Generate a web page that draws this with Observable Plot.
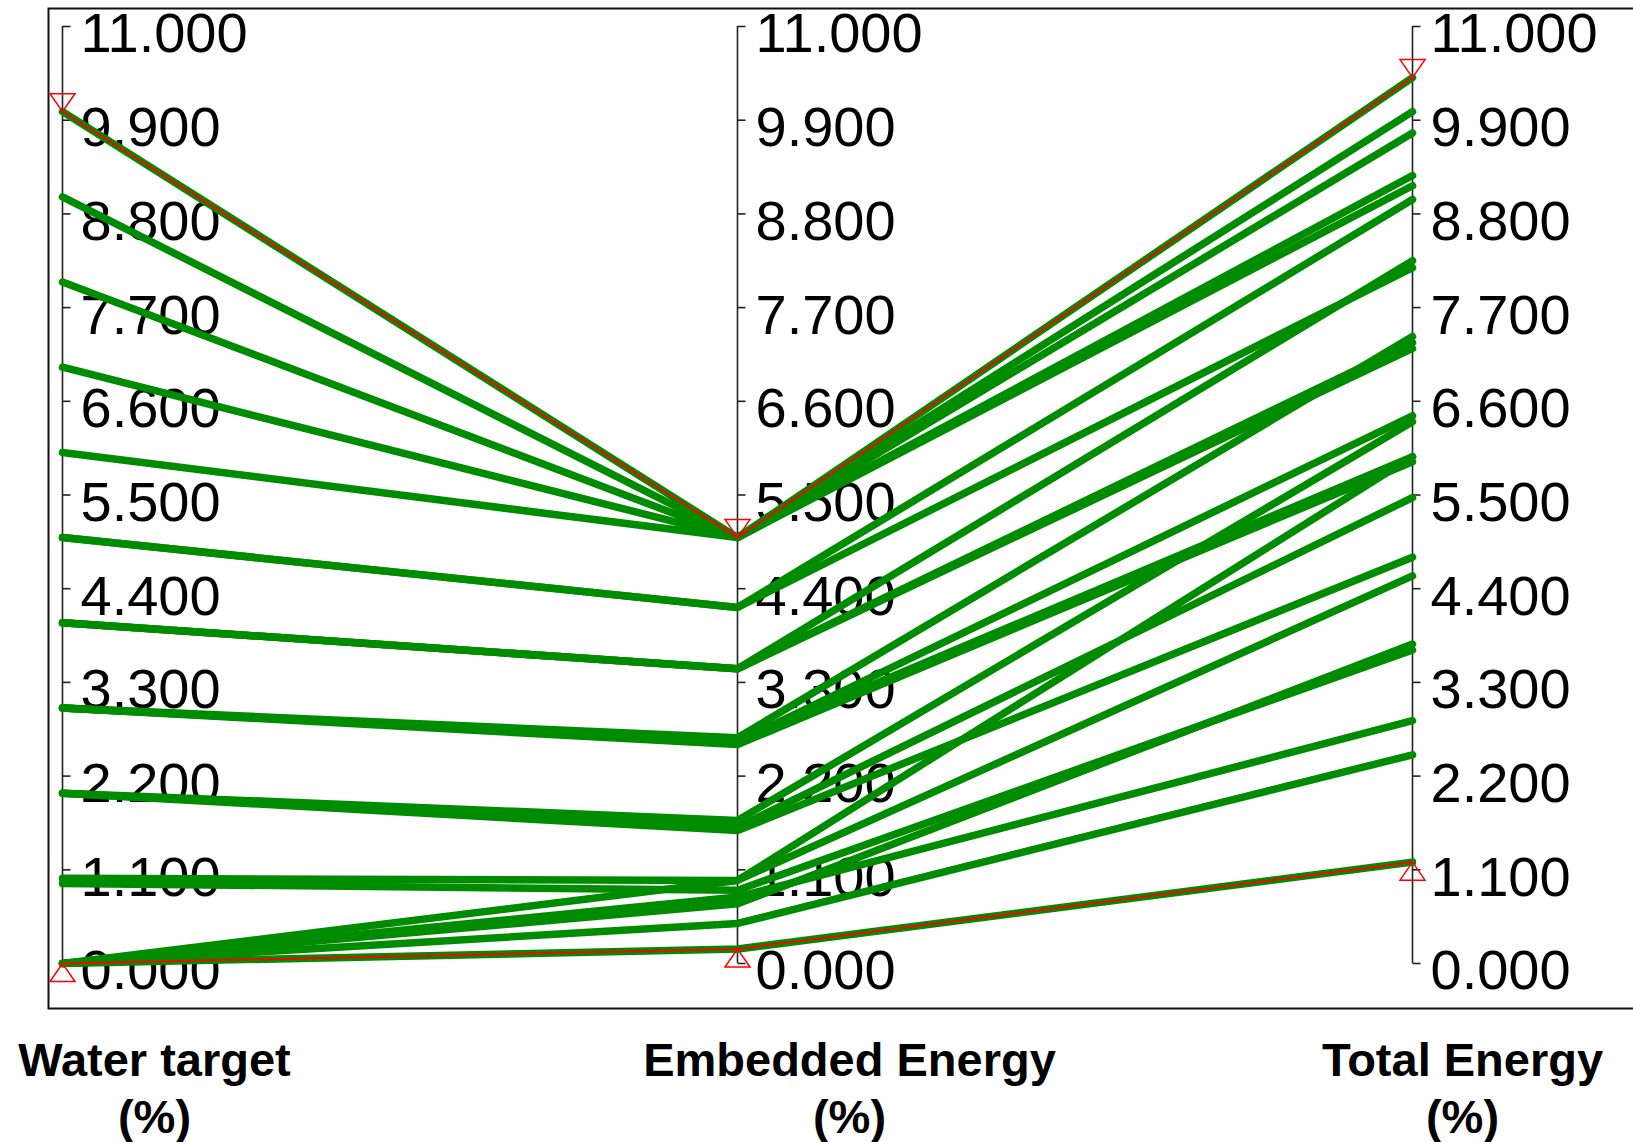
<!DOCTYPE html>
<html>
<head>
<meta charset="utf-8">
<script src="https://cdn.jsdelivr.net/npm/d3@7"></script>
<script src="https://cdn.jsdelivr.net/npm/@observablehq/plot@0.6"></script>
<style>
  html, body { margin: 0; padding: 0; background: #ffffff; }
  #chart svg { display: block; }
</style>
</head>
<body>
<div id="chart"></div>
<script>
// Parallel axes: one polyline per solution across three objectives (all in %).
const axisKeys = ["water", "embedded", "total"];
const axisTitles = ["Water target\n(%)", "Embedded Energy\n(%)", "Total Energy\n(%)"];
const tickValues = [0, 1.1, 2.2, 3.3, 4.4, 5.5, 6.6, 7.7, 8.8, 9.9, 11];

const waterTarget = [10, 9, 8, 7, 6, 5, 5, 4, 4, 4, 3, 3, 3, 3, 2, 2, 2, 1, 0.94, 0, 0, 0, 0, 0];
const embeddedEnergy = [5.0, 5.0, 5.0, 5.0, 5.0, 4.18, 4.18, 3.46, 3.46, 3.46, 2.65, 2.6, 2.57, 2.6,
  1.68, 1.6, 1.56, 0.975, 0.86, 0.975, 0.70, 0.78, 0.47, 0.17];
const totalEnergy = [10.4, 10.0, 9.75, 9.25, 9.13, 8.97, 8.17, 8.25, 7.29, 7.22, 7.36, 6.43, 5.89, 5.95,
  6.36, 5.47, 4.77, 5.95, 3.68, 4.55, 3.75, 2.85, 2.45, 1.19];

const series = [waterTarget, embeddedEnergy, totalEnergy];

// Solutions at the extremes of total energy are outlined in red.
const highlighted = [d3.maxIndex(totalEnergy), d3.minIndex(totalEnergy)];

const points = waterTarget.flatMap((_, i) =>
  axisKeys.map((key, j) => ({id: i, key, value: series[j][i]}))
);
const redPoints = points.filter(p => highlighted.includes(p.id));
const ticks = axisKeys.flatMap(key => tickValues.map(v => ({key, v})));
const extremes = axisKeys.map((key, j) => ({key, max: d3.max(series[j]), min: d3.min(series[j])}));
const fmt = d3.format(".3f");

// Glyphs: a short tick to the right of each axis, and range markers whose tip sits on the value.
const tickGlyph = {draw(ctx) { ctx.moveTo(0, 0); ctx.lineTo(8, 0); }};
const downMarker = {draw(ctx) { ctx.moveTo(0, 0); ctx.lineTo(-12.5, -18); ctx.lineTo(12.5, -18); ctx.closePath(); }};
const upMarker = {draw(ctx) { ctx.moveTo(0, 0); ctx.lineTo(-12.5, 18); ctx.lineTo(12.5, 18); ctx.closePath(); }};

const titleStyle = {frameAnchor: "bottom", lineAnchor: "top", dy: 27.5, fontWeight: "bold",
  fontSize: 47, lineHeight: 1.213, fill: "#000"};

const chart = Plot.plot({
  width: 1633,
  height: 1142,
  marginLeft: 48,
  marginTop: 8,
  marginRight: 0,
  marginBottom: 134,
  x: {type: "point", domain: axisKeys, range: [61, 1412], padding: 0, axis: null},
  y: {domain: [0, 11], range: [963, 26], axis: null},
  style: {background: "#ffffff", fontFamily: "'Liberation Sans', Arial, sans-serif", overflow: "visible"},
  marks: [
    Plot.frame({stroke: "#111", strokeWidth: 2, insetRight: -4}),
    Plot.ruleX(axisKeys, {x: d => d, y1: 0, y2: 11, stroke: "#222", strokeWidth: 1.6}),
    Plot.dot(ticks, {x: "key", y: "v", symbol: tickGlyph, stroke: "#222", strokeWidth: 1.6, fill: "none"}),
    Plot.text(ticks, {x: "key", y: "v", text: d => fmt(d.v), textAnchor: "start", dx: 18, dy: 8,
      fontSize: 56, fill: "#000"}),
    Plot.line(points, {x: "key", y: "value", z: "id", stroke: "#008c00", strokeWidth: 7.5}),
    Plot.line(redPoints, {x: "key", y: "value", z: "id", stroke: "#ff0000", strokeWidth: 2}),
    Plot.dot(extremes, {x: "key", y: "max", symbol: downMarker, stroke: "#ff0000", fill: "none", strokeWidth: 1.5}),
    Plot.dot(extremes, {x: "key", y: "min", symbol: upMarker, stroke: "#ff0000", fill: "none", strokeWidth: 1.5}),
    Plot.text([axisKeys[0]], {x: d => d, text: () => axisTitles[0], dx: 92, ...titleStyle}),
    Plot.text([axisKeys[1]], {x: d => d, text: () => axisTitles[1], dx: 112, ...titleStyle}),
    Plot.text([axisKeys[2]], {x: d => d, text: () => axisTitles[2], dx: 50, ...titleStyle})
  ]
});

document.getElementById("chart").appendChild(chart);
</script>
</body>
</html>
